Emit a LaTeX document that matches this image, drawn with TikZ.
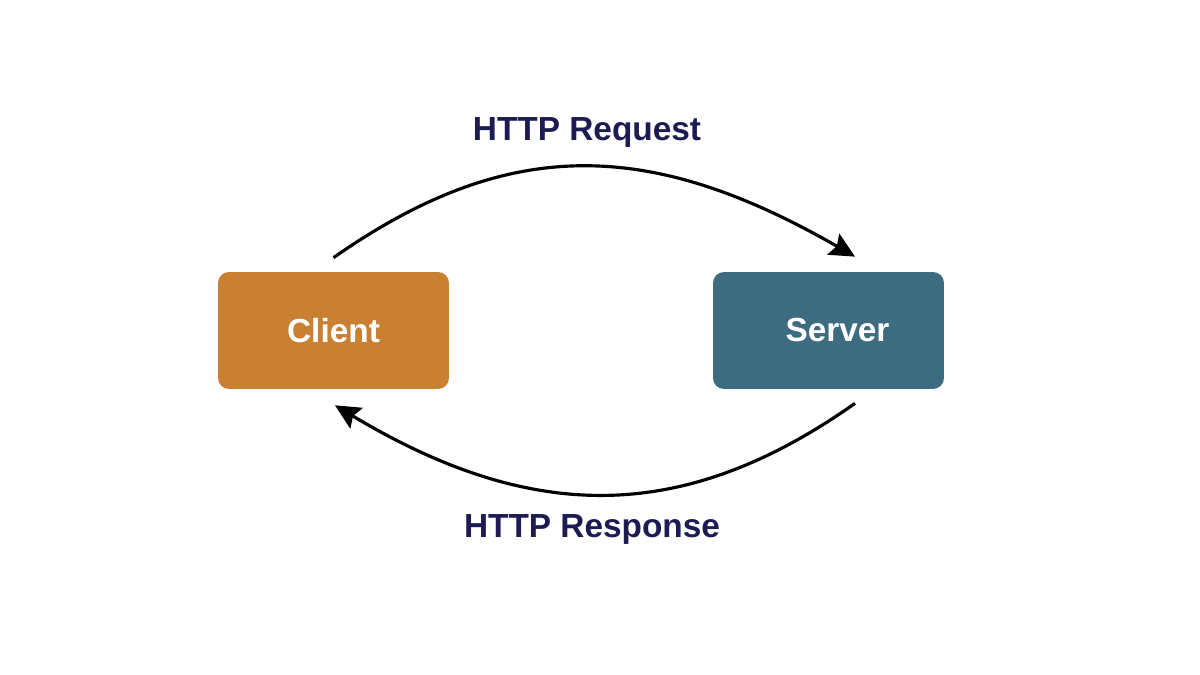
\documentclass[tikz,border=0pt]{standalone}
\usepackage{fontspec}
\setmainfont{Liberation Sans}
\usetikzlibrary{arrows.meta}
\definecolor{clientorange}{HTML}{C98032}
\definecolor{serverteal}{HTML}{3D6B80}
\definecolor{labelnavy}{HTML}{1C1B52}

\begin{document}
\begin{tikzpicture}[x=0.02cm, y=-0.02cm,
		box/.style={rounded corners=0.22cm, minimum width=4.62cm, minimum height=2.34cm, inner sep=0pt, text=white, font=\fontsize{19}{22}\selectfont\bfseries},
		flow/.style={line width=1.8pt, -{Stealth[length=0.5cm, width=0.48cm, inset=0.08cm]}},
		msglabel/.style={text=labelnavy, font=\fontsize{19}{22}\selectfont\bfseries}]
			\useasboundingbox[fill=white] (0,0) rectangle (1200,675);
			% the two ends
			\node[box, fill=clientorange] (client) at (333.5,330.5) {Client};
			\node[box, fill=serverteal] (server) at (828.5,330.5) {\hspace*{0.36cm}Server};
			% request and response arcs
			\draw[flow] ([yshift=0.28cm]client.north) .. controls (506,137) and (647,137) .. ([shift={(26.5,-15)}]server.north);
			\draw[flow] ([shift={(26.5,14)}]server.south) .. controls (684,524) and (533,524) .. ([shift={(1.5,16)}]client.south);
			\node[msglabel] (request) at (587,132) {HTTP Request};
			\node[msglabel] (response) at (592,529) {HTTP Response};
		\end{tikzpicture}
\end{document}
